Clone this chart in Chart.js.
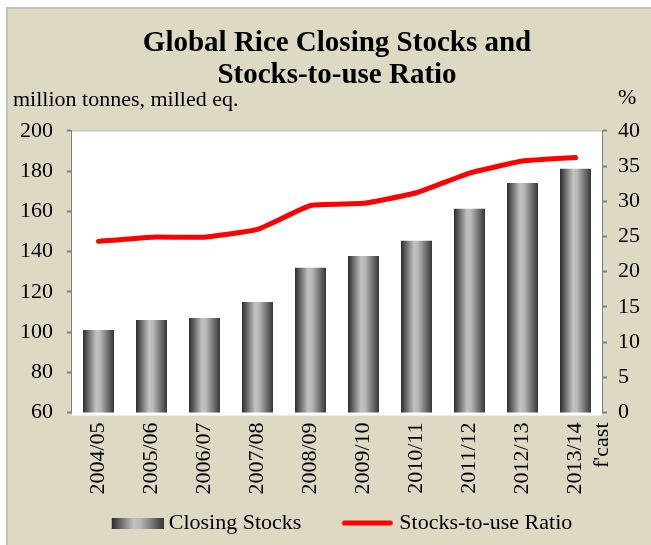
<!DOCTYPE html>
<html>
<head>
<meta charset="utf-8">
<script src="https://cdn.jsdelivr.net/npm/chart.js@4"></script>
<style>
  body { margin: 0; background: #ffffff; }
  #frame {
    position: absolute; left: 6px; top: 7px; width: 645px; height: 538px;
    border-left: 2px solid #c2c2c2; border-top: 2px solid #c2c2c2;
    background: #DDD9C3;
  }
  #chart { position: absolute; left: 0; top: 0; }
</style>
</head>
<body>
<div id="frame"></div>
<canvas id="chart" width="651" height="545"></canvas>
<script>
var seasons = ['2004/05', '2005/06', '2006/07', '2007/08', '2008/09', '2009/10', '2010/11', '2011/12', '2012/13', ['2013/14', "f'cast"]];
var closingStocks = [101.0, 106.0, 107.0, 114.9, 131.9, 137.8, 145.3, 161.2, 174.1, 181.1]; // million tonnes
var stocksToUse = [24.3, 24.9, 24.9, 26.0, 29.4, 29.7, 31.2, 34.0, 35.7, 36.2]; // %
var leftTicks = [60, 200, 20];
var rightTicks = [0, 40, 5];

var serif = "'Liberation Serif', 'Times New Roman', serif";
var barShare = 0.585;

function addStops(g)
{
  g.addColorStop(0, '#2c2c2c');
  g.addColorStop(0.42, '#c2c2c2');
  g.addColorStop(0.55, '#b8b8b8');
  g.addColorStop(1, '#363636');
  return g;
}

// gradient for each bar, worked out from the x scale
function barFill(ctx)
{
  var chart = ctx.chart;
  var x = chart.scales.x;
  if (!x || !chart.chartArea || ctx.type !== 'data') return '#888888';
  var cx = x.getPixelForValue(ctx.dataIndex);
  var w = (x.width / seasons.length) * barShare;
  return addStops(chart.ctx.createLinearGradient(cx - w / 2, 0, cx + w / 2, 0));
}

// legend swatches (transparent space on the left pushes the mark towards its text)
function barSwatch()
{
  var c = document.createElement('canvas');
  c.width = 84; c.height = 11;
  var g = c.getContext('2d');
  g.fillStyle = addStops(g.createLinearGradient(32, 0, 84, 0));
  g.fillRect(32, 0, 52, 11);
  return c;
}

function lineSwatch()
{
  var c = document.createElement('canvas');
  c.width = 82; c.height = 7;
  var g = c.getContext('2d');
  g.strokeStyle = '#ff0000';
  g.lineWidth = 5;
  g.lineCap = 'round';
  g.beginPath(); g.moveTo(33, 3.5); g.lineTo(79, 3.5); g.stroke();
  return c;
}

var decor = {
  id: 'decor',
  beforeDatasetsDraw(chart)
  {
    var a = chart.chartArea, c = chart.ctx;
    c.save();
    c.fillStyle = '#ffffff';
    c.fillRect(a.left, a.top, a.right - a.left, a.bottom - a.top + 3);
    c.strokeStyle = '#c8c8c8';
    c.lineWidth = 1.5;
    c.beginPath(); c.moveTo(a.left, a.top); c.lineTo(a.right, a.top); c.stroke();
    c.restore();
  },
  afterDraw(chart)
  {
    var c = chart.ctx;
    c.save();
    c.fillStyle = '#000000';
    c.font = '22px ' + serif;
    c.textBaseline = 'alphabetic';
    c.textAlign = 'left';
    c.fillText('million tonnes, milled eq.', 13, 106);
    c.fillText('%', 618, 104);
    c.restore();
  }
};

new Chart('chart', {
  type: 'bar',
  data: {
    labels: seasons,
    datasets: [
      {
        label: 'Closing Stocks',
        data: closingStocks,
        yAxisID: 'y',
        backgroundColor: barFill,
        barPercentage: barShare,
        categoryPercentage: 1,
        order: 2
      },
      {
        type: 'line',
        label: 'Stocks-to-use Ratio',
        data: stocksToUse,
        yAxisID: 'y1',
        borderColor: '#ff0000',
        borderWidth: 5,
        borderCapStyle: 'round',
        borderJoinStyle: 'round',
        tension: 0.12,
        pointRadius: 0,
        order: 1
      }
    ]
  },
  options: {
    responsive: false,
    animation: false,
    layout: { padding: { left: 10, right: 3, top: 0, bottom: 1 } },
    plugins: {
      title: {
        display: true,
        fullSize: false,
        text: ['Global Rice Closing Stocks and', 'Stocks-to-use Ratio'],
        color: '#000000',
        font: { family: serif, size: 29, weight: 'bold', lineHeight: 1.1 },
        padding: { top: 28, bottom: 39 }
      },
      legend: {
        position: 'bottom',
        labels: {
          color: '#000000',
          font: { family: serif, size: 22 },
          usePointStyle: true,
          pointStyleWidth: 72,
          padding: 15,
          generateLabels: function() {
            return [
              { text: 'Closing Stocks', pointStyle: barSwatch(), fontColor: '#000000', datasetIndex: 0, lineWidth: 0 },
              { text: 'Stocks-to-use Ratio', pointStyle: lineSwatch(), fontColor: '#000000', datasetIndex: 1, lineWidth: 0 }
            ];
          }
        }
      },
      tooltip: { enabled: false }
    },
    scales: {
      x: {
        afterFit: function(s) { s.height = 84.5; },
        grid: { display: false, drawTicks: false },
        border: { display: true, color: '#a6a6a6', width: 2 },
        ticks: {
          color: '#000000',
          font: { family: serif, size: 22 },
          minRotation: 90,
          maxRotation: 90,
          autoSkip: false,
          padding: 10
        }
      },
      y: {
        position: 'left',
        min: leftTicks[0],
        max: leftTicks[1],
        afterFit: function(s) { s.width = 62; },
        grid: { display: true, drawOnChartArea: false, drawTicks: true, tickLength: 5, tickColor: '#808080', tickWidth: 2 },
        border: { display: true, color: '#808080', width: 2 },
        ticks: { stepSize: leftTicks[2], color: '#000000', font: { family: serif, size: 22 }, padding: 14 }
      },
      y1: {
        position: 'right',
        min: rightTicks[0],
        max: rightTicks[1],
        afterFit: function(s) { s.width = 46; },
        grid: { display: true, drawOnChartArea: false, drawTicks: true, tickLength: 5, tickColor: '#808080', tickWidth: 2 },
        border: { display: true, color: '#808080', width: 2 },
        ticks: { stepSize: rightTicks[2], color: '#000000', font: { family: serif, size: 22 }, padding: 11 }
      }
    }
  },
  plugins: [decor]
});
</script>
</body>
</html>
